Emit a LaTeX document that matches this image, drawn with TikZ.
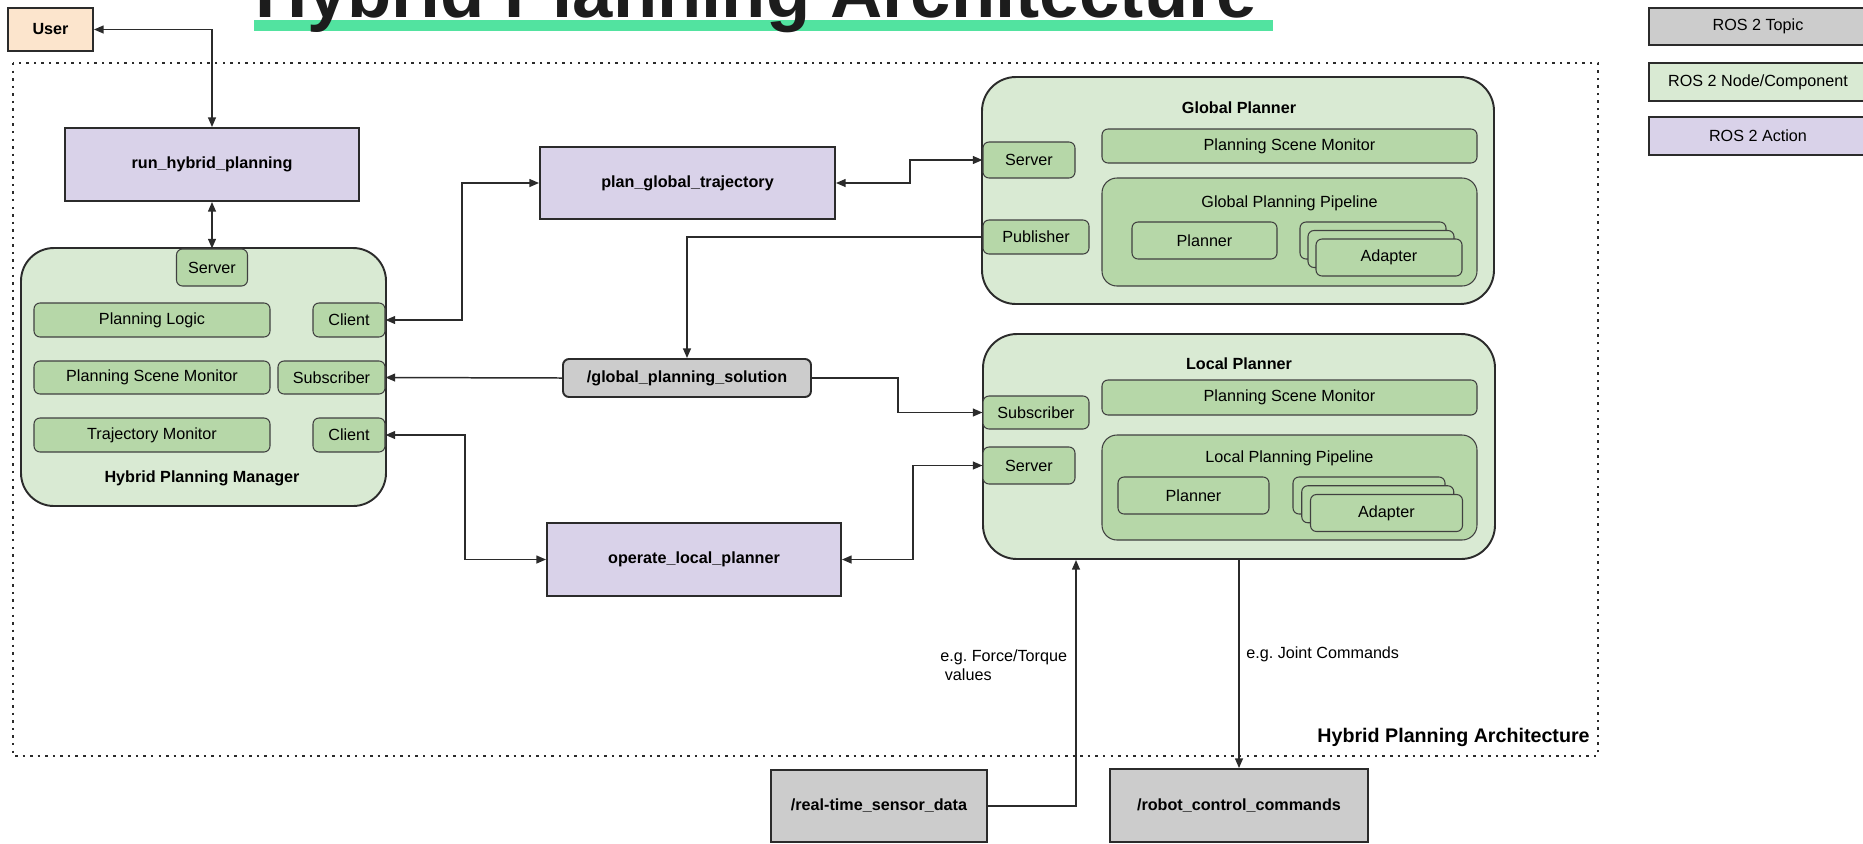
\documentclass[tikz,border=0pt]{standalone}
\usepackage{fontspec}
\setmainfont{Liberation Sans}
\usepackage{xcolor}
\usepackage{tikz}
\usetikzlibrary{arrows.meta}

\definecolor{actionc}{HTML}{D9D2E9}
\definecolor{nodec}{HTML}{D9EAD3}
\definecolor{partc}{HTML}{B6D7A8}
\definecolor{topicc}{HTML}{CCCCCC}
\definecolor{userc}{HTML}{FCE5CD}
\definecolor{linec}{HTML}{2B2B2B}
\definecolor{markc}{HTML}{52E3A0}
\definecolor{headc}{HTML}{1C1C1C}

\newcommand{\boxfont}{\fontsize{9.2pt}{11pt}\selectfont}
\frenchspacing

\tikzset{
  sz/.style 2 args={minimum width=#1*0.02cm,minimum height=#2*0.02cm},
  boxbase/.style={inner sep=0pt,font=\boxfont,text=black},
  action/.style={boxbase,draw=linec,line width=1.1pt,fill=actionc,font=\boxfont\bfseries},
  topic/.style={boxbase,draw=linec,line width=1.1pt,fill=topicc,font=\boxfont\bfseries},
  legend/.style={boxbase,draw=linec,line width=1.1pt},
  container/.style={boxbase,draw=linec,line width=1.1pt,fill=nodec,rounded corners=0.68cm},
  part/.style={boxbase,draw=linec!90,line width=0.6pt,fill=partc,rounded corners=0.12cm},
  pipe/.style={part,rounded corners=0.3cm},
  heading/.style={boxbase,font=\boxfont\bfseries},
  link/.style={line width=0.85pt,draw=linec,-{Triangle[length=5.5pt,width=4.5pt]}},
  biarrow/.style={link,{Triangle[length=5.5pt,width=4.5pt]}-{Triangle[length=5.5pt,width=4.5pt]}},
}

\begin{document}
\frenchspacing
\begin{tikzpicture}[x=0.02cm,y=-0.02cm]
  \useasboundingbox (0,0) rectangle (1863,843);

  % title
  \fill[markc] (254,20) rectangle (1273,31);
  \node[anchor=base,inner sep=0pt,text=headc,font=\fontsize{41.2pt}{44pt}\selectfont\bfseries] (head) at (756,17) {Hybrid Planning Architecture};

  % system boundary
  \draw[linec,line width=1.4pt,dash pattern=on 1.4pt off 2.9pt] (13,63) rectangle (1598,756);
  \node[boxbase,anchor=east,font=\fontsize{11.2pt}{13pt}\selectfont\bfseries] (arch) at (1590,737) {Hybrid Planning Architecture};

  % legend
  \node[legend,fill=topicc,sz={218}{37}] (lgTopic) at (1758,26.5) {ROS 2 Topic};
  \node[legend,fill=nodec,sz={218}{38}] (lgNode) at (1758,82) {ROS 2 Node/Component};
  \node[legend,fill=actionc,sz={218}{38}] (lgAction) at (1758,136) {ROS 2 Action};

  % user and actions
  \node[action,fill=userc,sz={85}{43}] (user) at (50.5,29.5) {User};
  \node[action,sz={294}{73}] (run) at (212,164.5) {run\_hybrid\_planning};
  \node[action,sz={295}{72}] (plan) at (687.5,183) {plan\_global\_trajectory};
  \node[action,sz={294}{73}] (operate) at (694,559.5) {operate\_local\_planner};

  % topics
  \node[topic,rounded corners=0.12cm,sz={248}{38}] (gsol) at (687,378) {/global\_planning\_solution};
  \node[topic,sz={216}{72}] (sensor) at (879,806) {/real-time\_sensor\_data};
  \node[topic,sz={258}{73}] (robot) at (1239,805.5) {/robot\_control\_commands};

  % hybrid planning manager
  \node[container,rounded corners=0.66cm,sz={365}{258}] (mgr) at (203.5,377) {};
  \node[part,sz={71}{37}] (mSrv) at (212,267.5) {Server};
  \node[part,sz={236}{34}] (mLogic) at (152,320) {Planning Logic};
  \node[part,sz={72}{34}] (mCli1) at (349,320) {Client};
  \node[part,sz={236}{33}] (mPsm) at (152,377.5) {Planning Scene Monitor};
  \node[part,sz={107}{33}] (mSub) at (331.5,377.5) {Subscriber};
  \node[part,sz={236}{34}] (mTraj) at (152,435) {Trajectory Monitor};
  \node[part,sz={72}{34}] (mCli2) at (349,435) {Client};
  \node[heading] (mgrLbl) at (202,478) {Hybrid Planning Manager};

  % global planner
  \node[container,sz={512}{227}] (gp) at (1238,190.5) {};
  \node[heading] (gpLbl) at (1239,108) {Global Planner};
  \node[part,sz={92}{36}] (gSrv) at (1029,160) {Server};
  \node[part,sz={106}{34}] (gPub) at (1036,237) {Publisher};
  \node[part,sz={375}{34}] (gPsm) at (1289.5,146) {Planning Scene Monitor};
  \node[pipe,sz={375}{108}] (gPipe) at (1289.5,232) {};
  \node[boxbase] (gPipeLbl) at (1289.5,203) {Global Planning Pipeline};
  \node[part,sz={145}{37}] (gPlan) at (1204.5,240.5) {Planner};
  \foreach \k in {0,1}
    \node[part,sz={146}{37}] at (1373+8*\k,240.5+8.5*\k) {};
  \node[part,sz={146}{37}] (gAd) at (1389,257.5) {Adapter};

  % local planner
  \node[container,sz={512}{225}] (lp) at (1239,446.5) {};
  \node[heading] (lpLbl) at (1239,364) {Local Planner};
  \node[part,sz={106}{33}] (lSub) at (1036,412.5) {Subscriber};
  \node[part,sz={92}{37}] (lSrv) at (1029,465.5) {Server};
  \node[part,sz={375}{35}] (lPsm) at (1289.5,397.5) {Planning Scene Monitor};
  \node[pipe,sz={375}{105}] (lPipe) at (1289.5,487.5) {};
  \node[boxbase] (lPipeLbl) at (1289.5,458) {Local Planning Pipeline};
  \node[part,sz={151}{37}] (lPlan) at (1193.5,495.5) {Planner};
  \foreach \k in {0,1}
    \node[part,sz={152}{37}] at (1369+8.75*\k,495.5+8.75*\k) {};
  \node[part,sz={152}{37}] (lAd) at (1386.5,513) {Adapter};

  % connections
  \draw[biarrow] (user.east) -| (run.north);
  \draw[biarrow] (run.south) -- (mSrv.north);
  \draw[biarrow] (plan.west) -- ++(-77,0) |- (mCli1.east);
  \draw[biarrow] (operate.west) -- ++(-81,0) |- (mCli2.east);
  \draw[biarrow] (plan.east) -- ++(74,0) |- (gSrv.west);
  \draw[biarrow] (operate.east) -- ++(71,0) |- (lSrv.west);
  \draw[link] (gPub.west) -| (gsol.north);
  \draw[link] (gsol.west) -- (mSub.east);
  \draw[link] (gsol.east) -- ++(86,0) |- (lSub.west);
  \draw[link] (sensor.east) -| (1076,0 |- lp.south);
  \draw[link] (robot.north |- lp.south) -- (robot.north);

  \node[boxbase,anchor=west,align=left] (ftLbl) at (940,665.5) {e.g. Force/Torque\\\hspace*{0.28em}values};
  \node[boxbase,anchor=west] (jcLbl) at (1246,654) {e.g. Joint Commands};
\end{tikzpicture}
\end{document}
